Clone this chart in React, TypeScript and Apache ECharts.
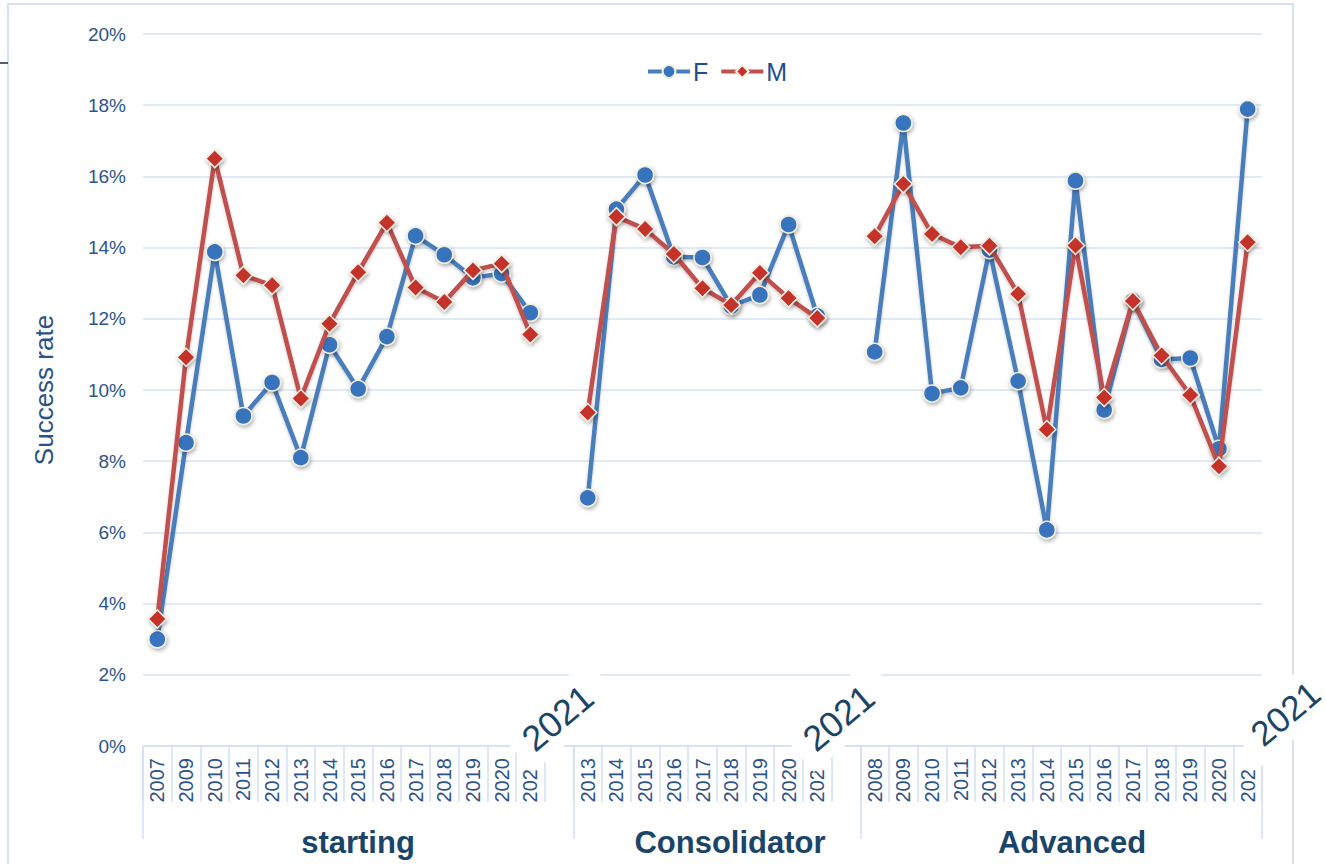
import React, { useEffect, useRef } from "react";
import * as echarts from "echarts";

// ---- data ----
const groups = ["starting", "Consolidator", "Advanced"];
const startingYears = ["2007", "2009", "2010", "2011", "2012", "2013", "2014", "2015", "2016", "2017", "2018", "2019", "2020", "2021"];
const consolidatorYears = ["2013", "2014", "2015", "2016", "2017", "2018", "2019", "2020", "2021"];
const advancedYears = ["2008", "2009", "2010", "2011", "2012", "2013", "2014", "2015", "2016", "2017", "2018", "2019", "2020", "2021"];

const startingF = [3.0, 8.52, 13.88, 9.27, 10.21, 8.1, 11.27, 10.03, 11.5, 14.33, 13.8, 13.15, 13.27, 12.17];
const startingM = [3.57, 10.92, 16.5, 13.22, 12.94, 9.76, 11.86, 13.31, 14.7, 12.88, 12.47, 13.36, 13.55, 11.56];
const consolidatorF = [6.97, 15.08, 16.04, 13.74, 13.72, 12.36, 12.67, 14.65, 12.08];
const consolidatorM = [9.37, 14.87, 14.52, 13.82, 12.86, 12.39, 13.29, 12.58, 12.02];
const advancedF = [11.07, 17.5, 9.9, 10.06, 13.93, 10.25, 6.07, 15.88, 9.44, 12.5, 10.86, 10.9, 8.35, 17.89];
const advancedM = [14.32, 15.79, 14.38, 14.01, 14.05, 12.7, 8.89, 14.06, 9.79, 12.5, 10.97, 9.86, 7.86, 14.15];

const yTicks = [0, 2, 4, 6, 8, 10, 12, 14, 16, 18, 20];
const seriesNames = ["F", "M"];

// build category slots (one blank slot after first two groups)
const slotLabels: string[] = [...startingYears, "", ...consolidatorYears, "", ...advancedYears];
const fData: (number | null)[] = [...startingF, null, ...consolidatorF, null, ...advancedF];
const mData: (number | null)[] = [...startingM, null, ...consolidatorM, null, ...advancedM];
const groupStarts = [0, startingYears.length + 1, startingYears.length + 1 + consolidatorYears.length + 1];
const truncated = new Set([
  startingYears.length - 1,
  startingYears.length + consolidatorYears.length,
  slotLabels.length - 1,
]);

const FONT = "'Liberation Sans', Arial, Helvetica, sans-serif";
const AXIS_BLUE = "#d3e1f2";
const TEXT_BLUE = "#2c5488";
const NAVY = "#1a4568";

export default function App() {
  const ref = useRef<HTMLDivElement>(null);
  useEffect(() => {
    if (!ref.current) return;
    const chart = echarts.init(ref.current, undefined, { renderer: "svg" });
    const catData = slotLabels.map((v, i) =>
      truncated.has(i) ? { value: v, textStyle: { padding: [0, 11, 0, 0] } } : v
    );
    const big2021 = (x: number, y: number, padding: number[], fontSize: number) => ({
      type: "text",
      x,
      y,
      rotation: (40 * Math.PI) / 180,
      z: 100,
      style: {
        text: "2021",
        fontSize,
        fontFamily: FONT,
        fill: "#1b4565",
        align: "center",
        verticalAlign: "middle",
        backgroundColor: "#ffffff",
        padding,
      },
    });
    const groupText = (x: number, t: string) => ({
      type: "text",
      x,
      y: 842,
      style: {
        text: t,
        fontSize: 31,
        fontWeight: "bold",
        fontFamily: FONT,
        fill: NAVY,
        align: "center",
        verticalAlign: "middle",
      },
    });
    chart.setOption({
      animation: false,
      backgroundColor: "#ffffff",
      textStyle: { fontFamily: FONT },
      grid: { left: 143, right: 64, top: 34, bottom: 118, containLabel: false },
      legend: {
        data: seriesNames.map((n) => ({ name: n })),
        left: 646,
        top: 59,
        itemWidth: 42,
        itemHeight: 16,
        itemGap: 11,
        padding: 0,
        lineStyle: { width: 4 },
        textStyle: { fontSize: 25, color: "#1f4e8c", fontFamily: FONT, padding: [0, 0, 0, -2] },
      },
      xAxis: [
        {
          type: "category",
          data: catData,
          boundaryGap: true,
          axisLine: { lineStyle: { color: AXIS_BLUE, width: 1.5 } },
          axisTick: { show: true, interval: 0, length: 56, lineStyle: { color: AXIS_BLUE, width: 1.5 } },
          axisLabel: {
            interval: 0,
            rotate: 90,
            fontSize: 20,
            color: TEXT_BLUE,
            margin: 12,
            formatter: (v: string, i: number) => (truncated.has(i) ? v.slice(0, 3) : v),
          },
          splitLine: { show: false },
        },
        {
          type: "category",
          data: slotLabels,
          position: "bottom",
          boundaryGap: true,
          axisLine: { show: false },
          axisLabel: { show: false },
          axisTick: {
            show: true,
            interval: (i: number) => groupStarts.includes(i),
            length: 93,
            lineStyle: { color: AXIS_BLUE, width: 1.5 },
          },
          splitLine: { show: false },
        },
      ],
      yAxis: {
        type: "value",
        min: yTicks[0],
        max: yTicks[yTicks.length - 1],
        interval: 2,
        name: "Success rate",
        nameLocation: "middle",
        nameRotate: 90,
        nameGap: 86,
        nameTextStyle: { fontSize: 26, color: "#2a5286", fontFamily: FONT },
        axisLine: { show: false },
        axisTick: { show: false },
        axisLabel: { formatter: "{value}%", fontSize: 19, color: TEXT_BLUE, margin: 17 },
        splitLine: { lineStyle: { color: "#d6e3f4", width: 1.5 } },
      },
      series: [
        {
          name: seriesNames[0],
          type: "line",
          xAxisIndex: 0,
          data: fData,
          connectNulls: false,
          symbol: "circle",
          symbolSize: 17,
          lineStyle: { color: "#4a7ebb", width: 4.5, shadowBlur: 3, shadowColor: "rgba(0,0,0,0.2)", shadowOffsetY: 2 },
          itemStyle: {
            color: "#3873bd",
            borderColor: "#f2eedf",
            borderWidth: 1.5,
            shadowBlur: 4,
            shadowColor: "rgba(0,0,0,0.35)",
            shadowOffsetX: 1,
            shadowOffsetY: 2,
          },
          z: 3,
        },
        {
          name: seriesNames[1],
          type: "line",
          xAxisIndex: 0,
          data: mData,
          connectNulls: false,
          symbol: "diamond",
          symbolSize: 18,
          lineStyle: { color: "#c0504d", width: 4.5, shadowBlur: 3, shadowColor: "rgba(0,0,0,0.2)", shadowOffsetY: 2 },
          itemStyle: {
            color: "#c5302c",
            borderColor: "#f2eedf",
            borderWidth: 1.5,
            shadowBlur: 4,
            shadowColor: "rgba(0,0,0,0.35)",
            shadowOffsetX: 1,
            shadowOffsetY: 2,
          },
          z: 4,
        },
      ],
      graphic: [
        {
          type: "rect",
          z: -10,
          shape: { x: 8, y: 4, width: 1285, height: 900 },
          style: { fill: "none", stroke: AXIS_BLUE, lineWidth: 2 },
        },
        {
          type: "line",
          shape: { x1: 0, y1: 63, x2: 8, y2: 63 },
          style: { stroke: "#1b2b3b", lineWidth: 1.5 },
        },
        groupText(358, groups[0]),
        groupText(730, groups[1]),
        groupText(1072, groups[2]),
        big2021(560, 716, [11, 20, 4, 14], 36),
        big2021(841, 716, [11, 20, 4, 14], 36),
        big2021(1280, 718, [11, 0, 4, 14], 35),
      ],
    });
    return () => chart.dispose();
  }, []);
  return <div ref={ref} style={{ position: "fixed", left: 0, top: 0, width: 1326, height: 864 }} />;
}
